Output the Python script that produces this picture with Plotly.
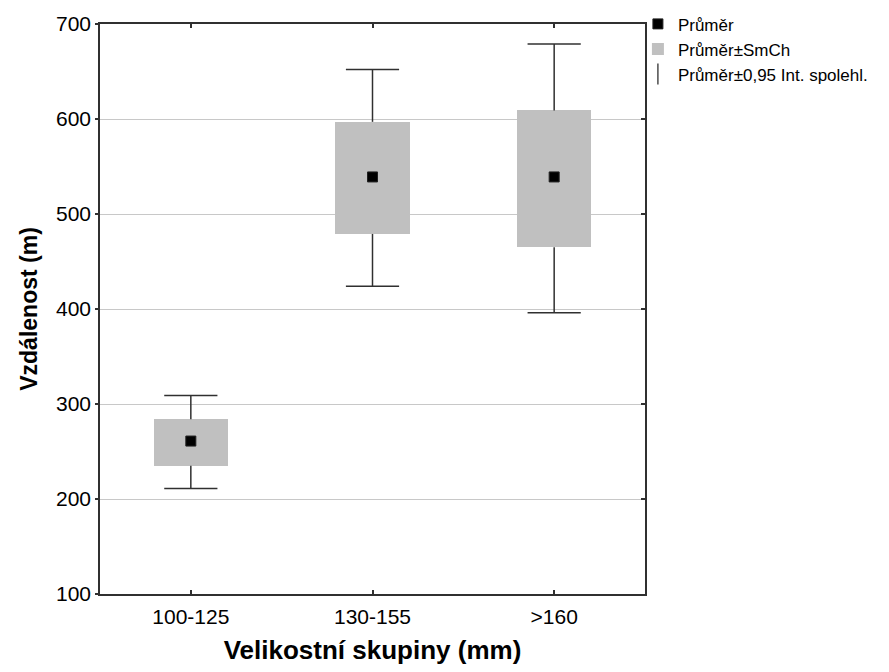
import plotly.graph_objects as go

categories = ["100-125", "130-155", ">160"]
means = [261, 539, 539]
se_low = [235, 479, 465]
se_high = [284, 597, 609]
ci_low = [211, 424, 396]
ci_high = [309, 652, 679]
y_ticks = [100, 200, 300, 400, 500, 600, 700]

FONT = "Liberation Sans, Arial, sans-serif"
LINE = "#303030"

fig = go.Figure()

# SE boxes
fig.add_trace(go.Bar(
    x=categories,
    y=[h - l for h, l in zip(se_high, se_low)],
    base=se_low,
    width=0.41,
    marker=dict(color="#c0c0c0", line=dict(width=0)),
    name="Průměr±SmCh",
    legendrank=2,
))

# whisker stems (outside the boxes)
wx, wy = [], []
for c, lo, bl, bh, hi in zip(categories, ci_low, se_low, se_high, ci_high):
    wx += [c, c, None, c, c, None]
    wy += [bh, hi, None, lo, bl, None]
fig.add_trace(go.Scatter(
    x=wx, y=wy, mode="lines",
    line=dict(color=LINE, width=1.5),
    showlegend=False, hoverinfo="skip",
))
# whisker caps
fig.add_trace(go.Scatter(
    x=categories + categories,
    y=ci_high + ci_low,
    mode="markers",
    marker=dict(symbol="line-ew", size=38, line=dict(color=LINE, width=1.5)),
    showlegend=False, hoverinfo="skip",
))
# legend entry for CI
fig.add_trace(go.Scatter(
    x=[None], y=[None], mode="markers",
    marker=dict(symbol="line-ns", size=15, line=dict(color=LINE, width=1.3)),
    name="Průměr±0,95 Int. spolehl.",
    legendrank=3,
))
# means
fig.add_trace(go.Scatter(
    x=categories, y=means, mode="markers",
    marker=dict(symbol="square", size=10, color="black", line=dict(color="#202020", width=1)),
    name="Průměr",
    legendrank=1,
))
# empty trace so the right-hand (inside-tick) axis is drawn
fig.add_trace(go.Scatter(
    x=[None], y=[None], yaxis="y2", mode="markers",
    showlegend=False, hoverinfo="skip",
))

fig.update_layout(
    width=889, height=672,
    margin=dict(l=100, r=244, t=24, b=78, autoexpand=False),
    paper_bgcolor="white", plot_bgcolor="white",
    font=dict(family=FONT, color="black", size=21),
    showlegend=True,
    legend=dict(
        x=0.987, y=1.031, xanchor="left", yanchor="top",
        font=dict(size=17, color="black", family=FONT),
        tracegroupgap=0, itemwidth=30,
        bgcolor="rgba(0,0,0,0)", borderwidth=0,
    ),
    bargap=0,
    xaxis=dict(
        type="category", range=[-0.5, 2.5],
        showline=True, linecolor=LINE, linewidth=1.5, mirror="ticks",
        ticks="inside", ticklen=4, tickcolor=LINE, tickwidth=1.5,
        showgrid=False, zeroline=False, ticklabelstandoff=3,
        tickfont=dict(size=21, family=FONT, color="black"),
        title=dict(text="<b>Velikostní skupiny (mm)</b>",
                   font=dict(size=26, family=FONT, color="black"), standoff=14),
    ),
    yaxis=dict(
        range=[100, 700], tickvals=y_ticks,
        showline=True, linecolor=LINE, linewidth=1.5, mirror=True,
        ticks="outside", ticklen=3, tickcolor=LINE, tickwidth=1.5,
        showgrid=True, gridcolor="#c8c8c8", gridwidth=1, zeroline=False,
        tickfont=dict(size=21, family=FONT, color="black"),
        title=dict(text="<b>Vzdálenost (m)</b>",
                   font=dict(size=23, family=FONT, color="black"), standoff=12),
    ),
    yaxis2=dict(
        overlaying="y", side="right", range=[100, 700], tickvals=y_ticks,
        ticks="inside", ticklen=4, tickcolor=LINE, tickwidth=1.5,
        showticklabels=False, showgrid=False, zeroline=False, showline=False,
    ),
)

fig.write_html("out.html")
